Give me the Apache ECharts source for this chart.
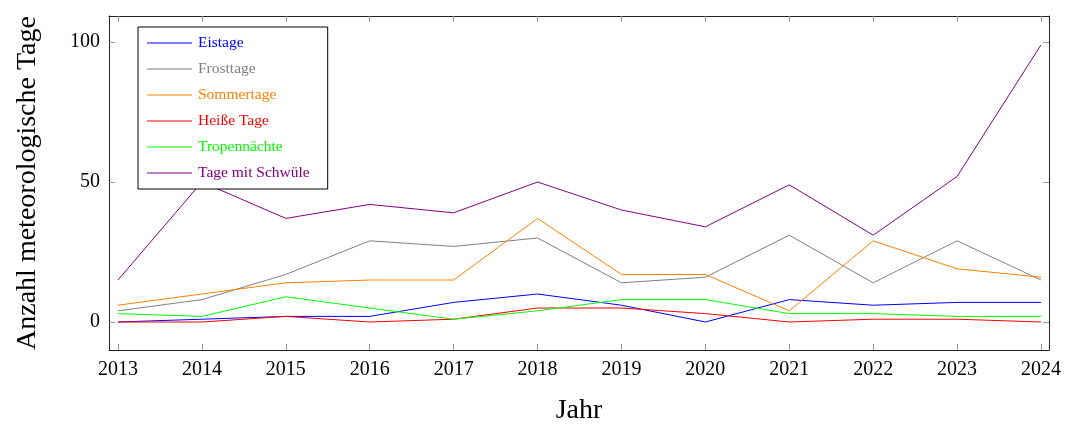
<!DOCTYPE html>
<html><head><meta charset="utf-8">
<script src="https://cdn.jsdelivr.net/npm/echarts@6/dist/echarts.min.js"></script>
<style>html,body{margin:0;padding:0;background:#fff}#c{width:1072px;height:426px}</style>
</head><body><div id="c"></div>
<script>
const years = [2013,2014,2015,2016,2017,2018,2019,2020,2021,2022,2023,2024];
const eistage     = [0,1,2,2,7,10,6,0,8,6,7,7];
const frosttage   = [4,8,17,29,27,30,14,16,31,14,29,15];
const sommertage  = [6,10,14,15,15,37,17,17,4,29,19,16];
const heisseTage  = [0,0,2,0,1,5,5,3,0,1,1,0];
const tropen      = [3,2,9,5,1,4,8,8,3,3,2,2];
const schwuele    = [15,50,37,42,39,50,40,34,49,31,52,99];
const yTicks = [0,50,100];
const seriesNames = ['Eistage','Frosttage','Sommertage','Heiße Tage','Tropennächte','Tage mit Schwüle'];
const seriesData = [eistage,frosttage,sommertage,heisseTage,tropen,schwuele];
const colors = ['#0000ff','#808080','#ff8000','#ff0000','#00ff00','#800080'];

const serif = '"Liberation Serif", "DejaVu Serif", serif';
const chart = echarts.init(document.getElementById('c'));
const frameColor = '#222';
const tickStyle = {show:true, inside:true, length:6, lineStyle:{color:'#999', width:1}};
chart.setOption({
  animation:false,
  grid:{left:109, right:23, top:16, bottom:76, containLabel:false, outerBoundsMode:'none'},
  legend:{
    orient:'vertical', left:138, top:27,
    backgroundColor:'#fff', borderColor:'#000', borderWidth:1,
    padding:[8,18,8,9], itemGap:10, itemWidth:45, itemHeight:1,
    icon:'rect',
    data: seriesNames.map((n,i)=>({name:n, textStyle:{color:colors[i]}})),
    textStyle:{fontFamily:serif, fontSize:15.5, lineHeight:16, padding:[0,0,0,1]}
  },
  xAxis:[{
    type:'value', min:2012.893, max:2024.095, position:'bottom',
    axisLine:{show:true, onZero:false, lineStyle:{color:frameColor, width:1}},
    axisTick:Object.assign({customValues:years}, tickStyle),
    axisLabel:{customValues:years, formatter:v=>String(v), fontFamily:serif, fontSize:20, color:'#000', margin:10},
    splitLine:{show:false},
    name:'Jahr', nameLocation:'middle', nameGap:47,
    nameTextStyle:{fontFamily:serif, fontSize:28, color:'#000'}
  },{
    type:'value', min:2012.893, max:2024.095, position:'top',
    axisLine:{show:true, onZero:false, lineStyle:{color:frameColor, width:1}},
    axisTick:Object.assign({customValues:years}, tickStyle),
    axisLabel:{show:false}, splitLine:{show:false}
  }],
  yAxis:[{
    type:'value', min:-10, max:109.3, position:'left',
    axisLine:{show:true, onZero:false, lineStyle:{color:frameColor, width:1}},
    axisTick:Object.assign({customValues:yTicks}, tickStyle),
    axisLabel:{customValues:yTicks, fontFamily:serif, fontSize:20, color:'#000', margin:9},
    splitLine:{show:false},
    name:'Anzahl meteorologische Tage', nameLocation:'middle', nameGap:67,
    nameTextStyle:{fontFamily:serif, fontSize:28, color:'#000'}
  },{
    type:'value', min:-10, max:109.3, position:'right',
    axisLine:{show:true, onZero:false, lineStyle:{color:frameColor, width:1}},
    axisTick:Object.assign({customValues:yTicks}, tickStyle),
    axisLabel:{show:false}, splitLine:{show:false}
  }],
  series: seriesNames.map((n,i)=>({
    name:n, type:'line', xAxisIndex:0, yAxisIndex:0,
    data: years.map((y,j)=>[y, seriesData[i][j]]),
    symbol:'none', color:colors[i],
    lineStyle:{width:1, color:colors[i]}
  }))
});
</script></body></html>
